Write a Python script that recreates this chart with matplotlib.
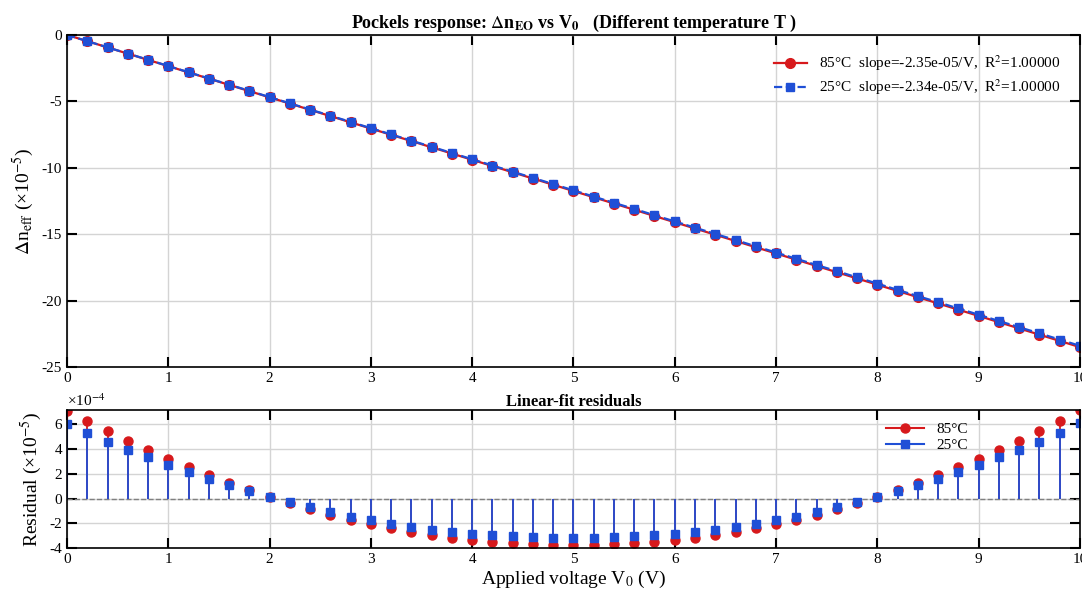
import numpy as np
import matplotlib.pyplot as plt

plt.rcParams['font.family'] = ['Liberation Serif', 'DejaVu Serif']
plt.rcParams['mathtext.fontset'] = 'stix'
plt.rcParams['axes.unicode_minus'] = False

# applied voltage (V)
V0 = np.arange(51) * 0.2

# delta n_eff (x1e-5)
dn_85 = [0, -0.47, -0.94, -1.41, -1.88, -2.35, -2.82, -3.29, -3.76, -4.23,
         -4.70, -5.17, -5.64, -6.11, -6.58, -7.05, -7.52, -7.99, -8.46, -8.93,
         -9.40, -9.87, -10.34, -10.81, -11.28, -11.75, -12.22, -12.69, -13.16, -13.63,
         -14.10, -14.57, -15.04, -15.51, -15.98, -16.45, -16.92, -17.39, -17.86, -18.33,
         -18.80, -19.27, -19.74, -20.21, -20.68, -21.15, -21.62, -22.09, -22.56, -23.03,
         -23.50]
dn_25 = [0, -0.47, -0.94, -1.40, -1.87, -2.34, -2.81, -3.28, -3.74, -4.21,
         -4.68, -5.15, -5.62, -6.08, -6.55, -7.02, -7.49, -7.96, -8.42, -8.89,
         -9.36, -9.83, -10.30, -10.76, -11.23, -11.70, -12.17, -12.64, -13.10, -13.57,
         -14.04, -14.51, -14.98, -15.44, -15.91, -16.38, -16.85, -17.32, -17.78, -18.25,
         -18.72, -19.19, -19.66, -20.12, -20.59, -21.06, -21.53, -22.00, -22.46, -22.93,
         -23.40]

# residuals (x1e-4 of 1e-5)
res_85 = [7.10, 6.25, 5.45, 4.65, 3.90, 3.20, 2.55, 1.90, 1.30, 0.70,
          0.15, -0.35, -0.85, -1.30, -1.70, -2.05, -2.40, -2.70, -2.95, -3.15,
          -3.35, -3.50, -3.60, -3.70, -3.75, -3.78, -3.75, -3.70, -3.60, -3.50,
          -3.35, -3.15, -2.95, -2.70, -2.40, -2.05, -1.70, -1.30, -0.85, -0.35,
          0.15, 0.70, 1.30, 1.90, 2.55, 3.20, 3.90, 4.65, 5.45, 6.25, 7.15]
res_25 = [6.05, 5.30, 4.60, 3.95, 3.35, 2.75, 2.15, 1.60, 1.10, 0.60,
          0.15, -0.30, -0.70, -1.10, -1.45, -1.75, -2.05, -2.30, -2.50, -2.70,
          -2.85, -2.95, -3.05, -3.10, -3.15, -3.17, -3.15, -3.10, -3.05, -2.95,
          -2.85, -2.70, -2.50, -2.30, -2.05, -1.75, -1.45, -1.10, -0.70, -0.30,
          0.15, 0.60, 1.10, 1.60, 2.15, 2.75, 3.35, 3.95, 4.60, 5.30, 6.10]

red = '#d7191c'
blue = '#1f4fd6'

fig = plt.figure(figsize=(10.82, 5.92), dpi=100)
ax1 = fig.add_axes([0.062, 0.38, 0.936, 0.561])
ax2 = fig.add_axes([0.062, 0.074, 0.936, 0.233])

# top panel
ax1.plot(V0, dn_85, '-', color=red, lw=1.6, marker='o', ms=7,
         label='85°C  slope=-2.35e-05/V,  R$^2$=1.00000')
ax1.plot(V0, dn_25, '--', color=blue, lw=1.6, marker='s', ms=6,
         label='25°C  slope=-2.34e-05/V,  R$^2$=1.00000')
ax1.set_xlim(0, 10)
ax1.set_ylim(-25, 0)
ax1.set_xticks(range(11))
ax1.set_yticks([-25, -20, -15, -10, -5, 0])
ax1.set_ylabel(r'$\Delta$n$_{\rm eff}$ (×10$^{-5}$)', fontsize=14)
ax1.set_title(r'Pockels response: $\Delta$n$_{\mathbf{EO}}$ vs V$_\mathbf{0}$   (Different temperature T )',
              fontsize=13, fontweight='bold', pad=5)
ax1.legend(loc='upper right', frameon=False, fontsize=11, handlelength=2.2,
           bbox_to_anchor=(0.995, 0.985), labelspacing=0.3)

# bottom panel
m1, s1, b1 = ax2.stem(V0, res_85, basefmt=' ')
plt.setp(s1, color=red, lw=1.3)
plt.setp(m1, color=red, marker='o', ms=6.5)
m2, s2, b2 = ax2.stem(V0, res_25, basefmt=' ')
plt.setp(s2, color=blue, lw=1.3)
plt.setp(m2, color=blue, marker='s', ms=5.5)
ax2.axhline(0, color='gray', ls='--', lw=1, zorder=1)
ax2.plot([], [], '-o', color=red, ms=6.5, label='85°C')
ax2.plot([], [], '-s', color=blue, ms=5.5, label='25°C')
ax2.set_xlim(0, 10)
ax2.set_ylim(-4, 7.15)
ax2.set_xticks(range(11))
ax2.set_yticks([-4, -2, 0, 2, 4, 6])
ax2.set_ylabel('Residual (×10$^{-5}$)', fontsize=14)
ax2.set_xlabel('Applied voltage V$_0$ (V)', fontsize=14, labelpad=2)
ax2.set_title('Linear-fit residuals', fontsize=12, fontweight='bold', pad=3)
ax2.text(0.0, 1.01, '×10$^{-4}$', transform=ax2.transAxes, fontsize=11, va='bottom', ha='left')
ax2.legend(loc='upper right', frameon=False, fontsize=11, handlelength=2.5,
           bbox_to_anchor=(0.90, 0.99), borderpad=0.2, labelspacing=0.15)

for ax in (ax1, ax2):
    ax.grid(True, color='#d4d4d4', lw=1)
    ax.set_axisbelow(True)
    ax.tick_params(direction='in', top=True, right=True, labelsize=11, length=7, width=1.5)
    for sp in ax.spines.values():
        sp.set_linewidth(1.2)

fig.savefig('out.png', dpi=100)
